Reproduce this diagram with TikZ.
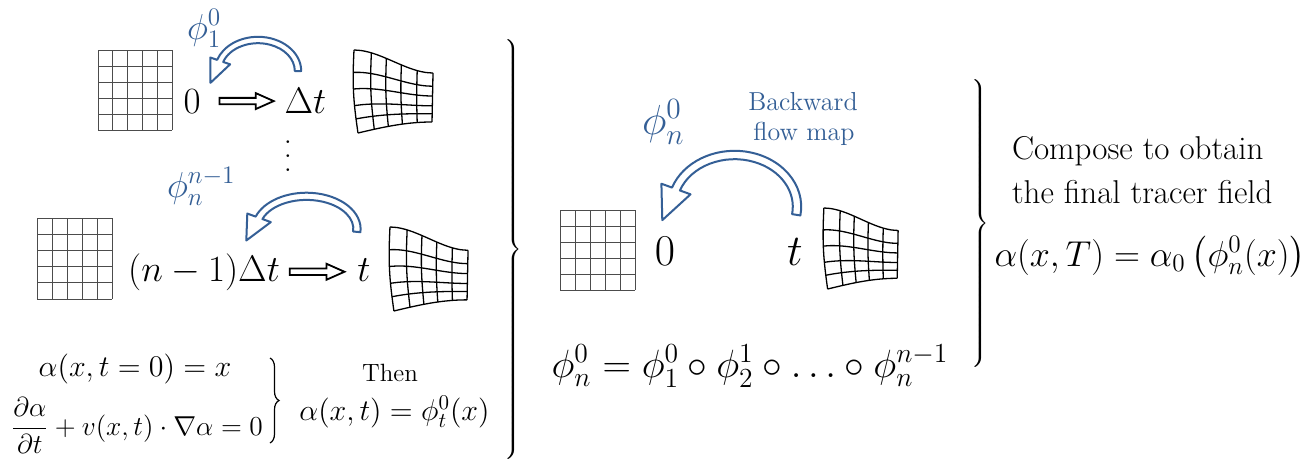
\RequirePackage{fix-cm}
\documentclass[tikz,border=0pt]{standalone}
\usepackage{amsmath}
\usetikzlibrary{calc,decorations.pathreplacing}
\definecolor{flowblue}{RGB}{52,95,150}
\tikzset{
  declare function={
    wss(\a)=3*\a*\a-2*\a*\a*\a;
    wtop(\a)=0.274*wss(\a);
    wbot(\a)=0.988-0.131*sin(90*\a);
    wxl(\b)=0.024+0.048*\b-0.03*sin(180*\b);
    wxr(\b)=0.976-0.012*\b;
    wgx(\a,\b)=wxl(\b)+\a*(wxr(\b)-wxl(\b));
    wgy(\a,\b)=wtop(\a)+\b*(wbot(\a)-wtop(\a));
  },
  every node/.style={inner sep=0pt, outer sep=0pt},
  bigm/.style={font=\fontsize{18.5}{22}\selectfont},
  midm/.style={font=\fontsize{22}{26}\selectfont},
  eqf/.style={font=\fontsize{15}{18}\selectfont},
  eqbf/.style={font=\fontsize{13.7}{16}\selectfont},
  thenf/.style={font=\fontsize{12.5}{15}\selectfont},
  txtf/.style={font=\fontsize{16.5}{20}\selectfont},
  compf/.style={font=\fontsize{19.7}{23}\selectfont},
  finf/.style={font=\fontsize{18}{22}\selectfont},
  bluelab/.style={text=flowblue, font=\fontsize{18}{22}\selectfont},
  bluebig/.style={text=flowblue, font=\fontsize{21}{25}\selectfont},
  bluetxt/.style={text=flowblue, font=\fontsize{13}{16}\selectfont},
  flowarrow/.style={draw=flowblue, line width=1pt, fill=white, line join=round},
  blockarr/.style={draw=black, line width=0.9pt, line join=miter},
  sgridline/.style={draw=black!70, line width=0.45pt},
  wgridline/.style={draw=black, line width=0.65pt},
  smallbrace/.style={draw=black, line width=0.6pt, decorate, decoration={brace, amplitude=4.5pt}},
}
% straight grid: x0 y0 cellw cellh
\newcommand{\sgrid}[4]{%
  \begin{scope}[shift={(#1,#2)}, x=#3, y=-#4]
    \foreach \kk in {0,...,5}{\draw[sgridline] (\kk,0) -- (\kk,5); \draw[sgridline] (0,\kk) -- (5,\kk);}
  \end{scope}}
% warped grid: x0 y0 width height
\newcommand{\wgrid}[4]{%
  \begin{scope}[shift={(#1,#2)}, x=#3, y=-#4]
    \foreach \vv in {0,0.27,0.47,0.67,0.83,1}
      \draw[wgridline] plot[smooth, domain=0:1, samples=11, variable=\uu] ({wgx(\uu,\vv)},{wgy(\uu,\vv)});
    \foreach \uu in {0,0.22,0.41,0.6,0.8,1}
      \draw[wgridline] plot[smooth, domain=0:1, samples=11, variable=\vv] ({wgx(\uu,\vv)},{wgy(\uu,\vv)});
  \end{scope}}
% hollow curved arrow: cx cy rx ry a0 a1 w h L
\newcommand{\hollowcurve}[9]{%
  \pgfmathsetmacro{\hcA}{#3*sin(#6)}%
  \pgfmathsetmacro{\hcB}{#4*cos(#6)}%
  \pgfmathsetmacro{\hcN}{sqrt(\hcA*\hcA+\hcB*\hcB)}%
  \pgfmathsetmacro{\hcTx}{#1+#3*cos(#6)+#9*\hcA/\hcN}%
  \pgfmathsetmacro{\hcTy}{#2+#4*sin(#6)-#9*\hcB/\hcN}%
  \draw[flowarrow] ({#1+(#3+#7)*cos(#5)},{#2+(#4+#7)*sin(#5)})
    arc[start angle=#5, end angle=#6, x radius=#3+#7, y radius=#4+#7]
    -- ({#1+(#3+#8)*cos(#6)},{#2+(#4+#8)*sin(#6)})
    -- (\hcTx,\hcTy)
    -- ({#1+(#3-#8)*cos(#6)},{#2+(#4-#8)*sin(#6)})
    -- ({#1+(#3-#7)*cos(#6)},{#2+(#4-#7)*sin(#6)})
    arc[start angle=#6, end angle=#5, x radius=#3-#7, y radius=#4-#7]
    -- cycle;}
% hollow block arrow between two nodes: from, to, start gap, end gap
\newcommand{\blockarrow}[4]{%
  \draw[blockarr] let \p1=(#1.east), \p2=(#2.west) in
    (\x1+#3,\y1+1.6pt) -- (\x2-#4-9pt,\y1+1.6pt) -- (\x2-#4-9pt,\y1+4pt)
    -- (\x2-#4,\y1) -- (\x2-#4-9pt,\y1-4pt) -- (\x2-#4-9pt,\y1-1.6pt)
    -- (\x1+#3,\y1-1.6pt) -- cycle;}
\newcommand{\texbrace}[1]{$\delimiterfactor=1000\delimitershortfall=0pt\nulldelimiterspace=0pt\left.\vcenter{\hbox{\rule{0pt}{#1}}}\right\}$}
\begin{document}
\begin{tikzpicture}[x=0.5pt, y=-0.5pt]
\path[fill=white] (0,0) rectangle (1312,461);

% ---------- top row ----------
\sgrid{98}{50}{7.4pt}{8pt}
\wgrid{352}{50}{41.5pt}{42pt}
\node[bigm, anchor=base] (z0) at (192,113) {$0$};
\node[bigm, anchor=base] (dt) at (305.5,113) {$\Delta t$};
\blockarrow{z0}{dt}{9.5pt}{5.5pt}
\hollowcurve{258}{71}{40}{31}{0}{-161}{3.2}{10.5}{24}
\node[bluelab, anchor=base west] (p1) at (187,39) {$\phi_1^0$};
\node[font=\fontsize{14}{14}\selectfont] (vd) at (288,156) {\vbox{\baselineskip=7pt\lineskiplimit=0pt\hbox{.}\hbox{.}\hbox{.}}};

% ---------- second row ----------
\sgrid{37}{218}{7.5pt}{8.1pt}
\wgrid{388}{227}{41pt}{42.5pt}
\node[bigm, anchor=base] (nm1) at (204,281) {$(n-1)\Delta t$};
\node[bigm, anchor=base] (t2) at (364,281) {$t$};
\blockarrow{nm1}{t2}{5pt}{6.5pt}
\hollowcurve{306.5}{229}{50.5}{32.7}{5}{-160}{3.6}{12.5}{26}
\node[bluelab, anchor=base west] (p2) at (167,197) {$\phi_n^{n-1}$};

% ---------- bottom-left equations ----------
\node[eqf, anchor=base] (eqA) at (135,376) {$\alpha(x,t=0)=x$};
\node[eqbf, anchor=base] (eqB) at (137,435) {$\dfrac{\partial\alpha}{\partial t}+v(x,t)\cdot\nabla\alpha=0$};
\coordinate (sbrtop) at (270,358);
\coordinate (sbrbot) at (270,443);
\draw[smallbrace] (sbrtop) -- (sbrbot);
\node[thenf, anchor=base] (then) at (390,381) {Then};
\node[eqf, anchor=base] (eqC) at (394.5,420) {$\alpha(x,t)=\phi_t^0(x)$};

% ---------- big brace 1 ----------
\node[font=\fontsize{10}{12}\selectfont] (br1) at (513.5,249) {\texbrace{209pt}};

% ---------- middle ----------
\sgrid{560}{210}{7.5pt}{8pt}
\wgrid{822}{208}{39pt}{41pt}
\node[midm, anchor=base] (mz) at (665,265) {$0$};
\node[midm, anchor=base] (mt) at (795,265) {$t$};
\hollowcurve{734.6}{206.7}{62.4}{51.7}{9}{-160}{4.2}{15.5}{34}
\node[bluebig, anchor=base west] (pn) at (642,134) {$\phi_n^0$};
\node[bluetxt, anchor=base] (bk1) at (803,110) {Backward};
\node[bluetxt, anchor=base] (bk2) at (804,140) {flow map};
\node[compf, anchor=base] (comp) at (750,377) {$\phi_n^0=\phi_1^0\circ\phi_2^1\circ\ldots\circ\phi_n^{n-1}$};

% ---------- big brace 2 ----------
\node[font=\fontsize{10}{12}\selectfont] (br2) at (980,223.5) {\texbrace{141.5pt}};

% ---------- right ----------
\node[txtf, anchor=base west] (c1) at (1012,159) {Compose to obtain};
\node[txtf, anchor=base west] (c2) at (1012,203) {the final tracer field};
\node[finf, anchor=base] (fin) at (1150,266) {$\alpha(x,T)=\alpha_0\left(\phi_n^0(x)\right)$};
\end{tikzpicture}
\end{document}
